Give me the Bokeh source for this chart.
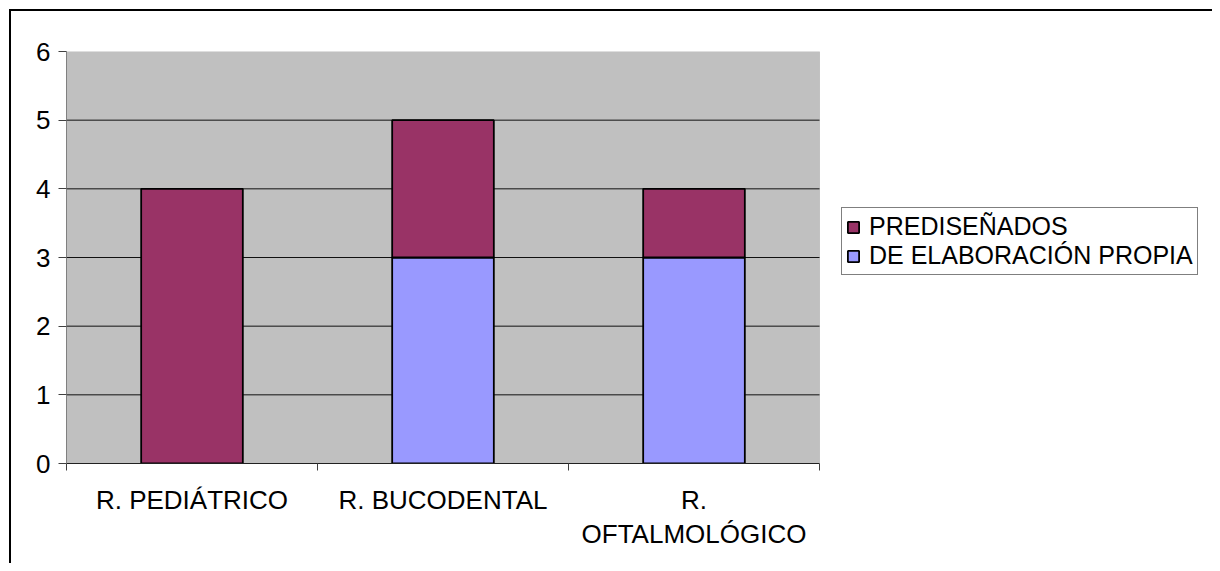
from bokeh.plotting import figure
from bokeh.models import (ColumnDataSource, FixedTicker, Legend, LegendItem, Range1d,
                          BoxAnnotation)
from bokeh.embed import file_html
from bokeh.resources import INLINE

categories = ["R. PEDIÁTRICO", "R. BUCODENTAL", "R.\nOFTALMOLÓGICO"]
propia = [0, 3, 3]
prediseñados = [4, 2, 1]
series_names = ["PREDISEÑADOS", "DE ELABORACIÓN PROPIA"]
y_ticks = [0, 1, 2, 3, 4, 5, 6]

# layout (pixels)
W, H = 1212, 563
LEFT, TOP, BOTTOM = 66, 51, 100
PLOT_W = 753            # width of the grey plot area
FRAME_W = W - LEFT      # frame extends to the right edge so the legend can sit in it

n = len(categories)
xs = [i + 0.5 for i in range(n)]
source = ColumnDataSource(dict(x=xs, propia=propia, predis=prediseñados))
grid_y = y_ticks[1:-1]
grid_src = ColumnDataSource(dict(y=grid_y, x0=[0] * len(grid_y), x1=[n] * len(grid_y)))

FONT = "Liberation Sans"

p = figure(width=W, height=H, output_backend="svg", toolbar_location=None,
           x_range=Range1d(0, n * FRAME_W / PLOT_W), y_range=Range1d(0, y_ticks[-1]),
           min_border_left=LEFT, min_border_top=TOP, min_border_bottom=BOTTOM,
           min_border_right=0)
p.background_fill_color = None
p.border_fill_color = None
p.outline_line_color = None
p.styles = {"box-shadow": "inset 9px 9px 0 0 #ffffff, inset 11px 11px 0 0 #000000"}

# grey plot area
p.add_layout(BoxAnnotation(left=0, right=n, bottom=0, top=y_ticks[-1],
                           fill_color="#C0C0C0", fill_alpha=1,
                           line_color="#808080", line_width=1, level="image"))

# horizontal gridlines limited to the plot area
p.segment(x0="x0", x1="x1", y0="y", y1="y", source=grid_src,
          line_color="#111111", line_width=1)

r = p.vbar_stack(["propia", "predis"], x="x", width=0.405, source=source,
                 color=["#9999FF", "#993366"], line_color="black", line_width=1.8)

# axes
p.xaxis.bounds = (0, n)
p.xaxis.ticker = FixedTicker(ticks=xs, minor_ticks=list(range(n + 1)))
p.xaxis.major_label_overrides = {x: c for x, c in zip(xs, categories)}
p.xaxis.major_tick_line_color = None
p.xaxis.minor_tick_out = 7
p.xaxis.minor_tick_in = 0
p.xaxis.minor_tick_line_color = "#404040"
p.xaxis.axis_line_color = "#202020"
p.xaxis.major_label_text_font = FONT
p.xaxis.major_label_text_font_size = "26px"
p.xaxis.major_label_text_color = "black"
p.xaxis.major_label_standoff = 14
p.xaxis.major_label_text_line_height = 1.15

p.yaxis.ticker = FixedTicker(ticks=y_ticks)
p.yaxis.minor_tick_line_color = None
p.yaxis.major_tick_out = 8
p.yaxis.major_tick_in = 0
p.yaxis.major_tick_line_color = "#404040"
p.yaxis.axis_line_color = "#808080"
p.yaxis.major_label_text_font = FONT
p.yaxis.major_label_text_font_size = "26px"
p.yaxis.major_label_text_color = "black"
p.yaxis.major_label_standoff = 8

p.xgrid.grid_line_color = None
p.ygrid.grid_line_color = None

legend = Legend(items=[LegendItem(label=series_names[0], renderers=[r[1]]),
                       LegendItem(label=series_names[1], renderers=[r[0]])],
                location=(PLOT_W + 22, 188))
legend.label_text_font = FONT
legend.label_text_font_size = "25px"
legend.label_text_color = "black"
legend.glyph_width = 14
legend.glyph_height = 14
legend.label_standoff = 9
legend.label_height = 19
legend.spacing = 0
legend.padding = 4
legend.margin = 0
legend.border_line_color = "black"
legend.border_line_width = 1
legend.background_fill_color = "white"
legend.background_fill_alpha = 1
p.add_layout(legend, "center")

open("out.html", "w").write(file_html(p, INLINE))
